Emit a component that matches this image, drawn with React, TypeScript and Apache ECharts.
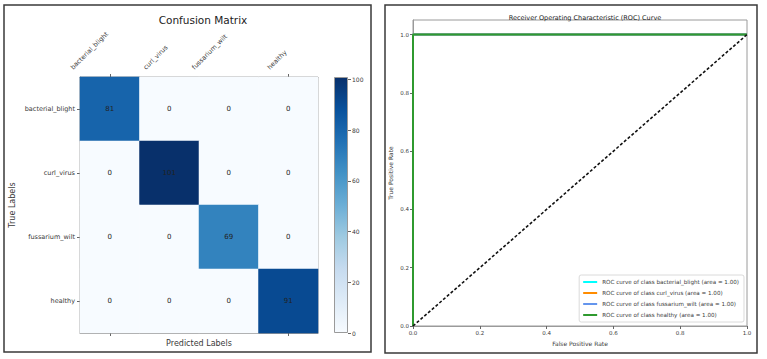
import React, { useEffect, useRef } from "react";
import * as echarts from "echarts";

// Confusion matrix (rows = true class, columns = predicted class)
const CLASSES = ["bacterial_blight", "curl_virus", "fussarium_wilt", "healthy"];
const CM_BACTERIAL = [81, 0, 0, 0];
const CM_CURL = [0, 101, 0, 0];
const CM_FUSSARIUM = [0, 0, 69, 0];
const CM_HEALTHY = [0, 0, 0, 91];
const CM_ROWS = [CM_BACTERIAL, CM_CURL, CM_FUSSARIUM, CM_HEALTHY];
const CM_MAX = 101;
const CBAR_TICKS = [0, 20, 40, 60, 80, 100];

// ROC curves per class (one-vs-rest)
const ROC_FPR = [
  [0, 0, 1],
  [0, 0, 1],
  [0, 0, 1],
  [0, 0, 1],
];
const ROC_TPR = [
  [0, 1, 1],
  [0, 1, 1],
  [0, 1, 1],
  [0, 1, 1],
];
const ROC_AUC = [1.0, 1.0, 1.0, 1.0];
const CHANCE_X = [0, 1];
const CHANCE_Y = [0, 1];
const ROC_X_TICKS = [0, 0.2, 0.4, 0.6, 0.8, 1.0];
const ROC_Y_TICKS = [0, 0.2, 0.4, 0.6, 0.8, 1.0];

// matplotlib "Blues" colormap
const BLUES = [
  "#f7fbff",
  "#deebf7",
  "#c6dbef",
  "#9ecae1",
  "#6baed6",
  "#4292c6",
  "#2171b5",
  "#08519c",
  "#08306b",
];
const ROC_COLORS = ["#00ffff", "#ff8c00", "#6495ed", "#2f9a2f"];

const FONT = "DejaVu Sans";
const TXT = "#3a3a3a";
const SPINE = "#9a9a9a";

export default function App() {
  const ref = useRef<HTMLDivElement>(null);

  useEffect(() => {
    document.body.style.margin = "0";
    if (!ref.current) return;
    const chart = echarts.init(ref.current, undefined, { renderer: "svg" });

    const heatData: number[][] = [];
    CM_ROWS.forEach((row, r) =>
      row.forEach((v, c) => heatData.push([c, r, v]))
    );

    const rocSeries = CLASSES.map((name, i) => ({
      type: "line",
      name: `ROC curve of class ${name} (area = ${ROC_AUC[i].toFixed(2)})`,
      xAxisIndex: 3,
      yAxisIndex: 2,
      data: ROC_FPR[i].map((x, k) => [x, ROC_TPR[i][k]]),
      symbol: "none",
      color: ROC_COLORS[i],
      lineStyle: { width: 2, color: ROC_COLORS[i] },
      z: 3 + i,
    }));

    const option: any = {
      animation: false,
      textStyle: { fontFamily: FONT },
      title: [
        {
          text: "Confusion Matrix",
          left: 198,
          top: 9,
          textAlign: "center",
          textStyle: { fontSize: 10.5, fontWeight: "normal", color: "#222", fontFamily: FONT },
        },
        {
          text: "Receiver Operating Characteristic (ROC) Curve",
          left: 580,
          top: 9,
          textAlign: "center",
          textStyle: { fontSize: 6.5, fontWeight: "normal", color: "#222", fontFamily: FONT },
        },
      ],
      grid: [
        { left: 80, top: 77, width: 238, height: 256, show: true, borderColor: SPINE, borderWidth: 1 },
        { left: 334, top: 77, width: 14, height: 256 },
        { left: 413, top: 20, width: 334, height: 306, show: true, borderColor: SPINE, borderWidth: 1 },
      ],
      visualMap: {
        type: "continuous",
        show: false,
        min: 0,
        max: CM_MAX,
        seriesIndex: 0,
        inRange: { color: BLUES },
      },
      xAxis: [
        {
          type: "category",
          gridIndex: 0,
          position: "top",
          data: CLASSES,
          axisLine: { show: true, lineStyle: { color: SPINE } },
          axisTick: { show: true, alignWithLabel: true, length: 3, lineStyle: { color: "#666" } },
          axisLabel: { show: false },
          splitLine: { show: false },
        },
        {
          type: "category",
          gridIndex: 0,
          position: "bottom",
          data: CLASSES,
          name: "Predicted Labels",
          nameLocation: "middle",
          nameGap: 6,
          nameTextStyle: { fontSize: 8, color: TXT, verticalAlign: "top" },
          axisLine: { show: true, lineStyle: { color: SPINE } },
          axisTick: { show: true, alignWithLabel: true, length: 3, lineStyle: { color: "#666" } },
          axisLabel: { show: false },
          splitLine: { show: false },
        },
        {
          type: "category",
          gridIndex: 1,
          data: ["scale"],
          show: false,
        },
        {
          type: "value",
          gridIndex: 2,
          min: 0,
          max: 1,
          interval: 0.2,
          name: "False Positive Rate",
          nameLocation: "middle",
          nameGap: 14,
          nameTextStyle: { fontSize: 6, color: TXT },
          axisLine: { show: true, lineStyle: { color: SPINE } },
          axisTick: { show: true, length: 3, lineStyle: { color: "#666" }, customValues: ROC_X_TICKS },
          axisLabel: {
            fontSize: 5.5,
            color: TXT,
            margin: 4,
            customValues: ROC_X_TICKS,
            formatter: (v: number) => v.toFixed(1),
          },
          splitLine: { show: false },
        },
      ],
      yAxis: [
        {
          type: "category",
          gridIndex: 0,
          inverse: true,
          data: CLASSES,
          name: "True Labels",
          nameLocation: "middle",
          nameGap: 64,
          nameRotate: 90,
          nameTextStyle: { fontSize: 8, color: TXT },
          axisLine: { show: true, lineStyle: { color: SPINE } },
          axisTick: { show: true, alignWithLabel: true, length: 3, lineStyle: { color: "#666" } },
          axisLabel: { fontSize: 6.5, color: TXT, margin: 5 },
          splitLine: { show: false },
        },
        {
          type: "value",
          gridIndex: 1,
          position: "right",
          min: 0,
          max: CM_MAX,
          axisLine: { show: false },
          axisTick: { show: true, length: 3, lineStyle: { color: "#666" }, customValues: CBAR_TICKS },
          axisLabel: { fontSize: 6, color: TXT, margin: 4, customValues: CBAR_TICKS },
          splitLine: { show: false },
        },
        {
          type: "value",
          gridIndex: 2,
          min: 0,
          max: 1.05,
          name: "True Positive Rate",
          nameLocation: "middle",
          nameGap: 20,
          nameRotate: 90,
          nameTextStyle: { fontSize: 6, color: TXT },
          axisLine: { show: true, lineStyle: { color: SPINE } },
          axisTick: { show: true, length: 3, lineStyle: { color: "#666" }, customValues: ROC_Y_TICKS },
          axisLabel: {
            fontSize: 5.5,
            color: TXT,
            margin: 4,
            customValues: ROC_Y_TICKS,
            formatter: (v: number) => v.toFixed(1),
          },
          splitLine: { show: false },
        },
      ],
      legend: {
        data: rocSeries.map((s) => s.name),
        orient: "vertical",
        right: 23,
        bottom: 37,
        icon: "rect",
        itemWidth: 14,
        itemHeight: 2,
        itemGap: 5,
        padding: [4, 5, 4, 4],
        backgroundColor: "#fff",
        borderColor: "#d0d0d0",
        borderWidth: 0.8,
        borderRadius: 2,
        textStyle: { fontSize: 5.6, color: TXT, fontFamily: FONT },
      },
      series: [
        {
          type: "heatmap",
          xAxisIndex: 0,
          yAxisIndex: 0,
          data: heatData,
          label: {
            show: true,
            fontSize: 7,
            color: "#222",
            formatter: (p: any) => String(p.value[2]),
          },
          itemStyle: { borderWidth: 0 },
          emphasis: { disabled: true },
          z: 1,
        },
        {
          type: "bar",
          xAxisIndex: 2,
          yAxisIndex: 1,
          data: [CM_MAX],
          barWidth: "100%",
          itemStyle: {
            color: {
              type: "linear",
              x: 0,
              y: 1,
              x2: 0,
              y2: 0,
              colorStops: BLUES.map((c, i) => ({ offset: i / (BLUES.length - 1), color: c })),
            },
            borderColor: SPINE,
            borderWidth: 1,
          },
          emphasis: { disabled: true },
        },
        ...rocSeries,
        {
          type: "line",
          name: "chance",
          xAxisIndex: 3,
          yAxisIndex: 2,
          data: CHANCE_X.map((x, k) => [x, CHANCE_Y[k]]),
          symbol: "none",
          lineStyle: { width: 1.6, color: "#111", type: [3, 2] },
          z: 10,
        },
      ],
    };

    chart.setOption(option);

    // Rotated column labels above the matrix: right edge of each label's box at its tick
    const ctx = document.createElement("canvas").getContext("2d")!;
    const labelSize = 6.5;
    ctx.font = `${labelSize}px "${FONT}"`;
    const c45 = Math.SQRT1_2;
    const colLabels = CLASSES.map((name, i) => {
      const px = chart.convertToPixel({ xAxisIndex: 0 }, i) as number;
      const w = ctx.measureText(name).width;
      return {
        type: "text",
        id: `col-${i}`,
        x: px - c45 * w,
        y: 71,
        rotation: Math.PI / 4,
        style: {
          text: name,
          fontSize: labelSize,
          fontFamily: FONT,
          fill: TXT,
          align: "left",
          verticalAlign: "bottom",
        },
      };
    });

    chart.setOption({
      graphic: [
        {
          type: "rect",
          id: "panel-left",
          shape: { x: 4, y: 5, width: 367, height: 347 },
          style: { fill: "none", stroke: "#3a3a3a", lineWidth: 1.5 },
          z: 100,
        },
        {
          type: "rect",
          id: "panel-right",
          shape: { x: 385, y: 5, width: 372, height: 348 },
          style: { fill: "none", stroke: "#3a3a3a", lineWidth: 1.5 },
          z: 100,
        },
        ...colLabels,
      ],
    });

    return () => chart.dispose();
  }, []);

  return <div ref={ref} style={{ width: 767, height: 359 }} />;
}
